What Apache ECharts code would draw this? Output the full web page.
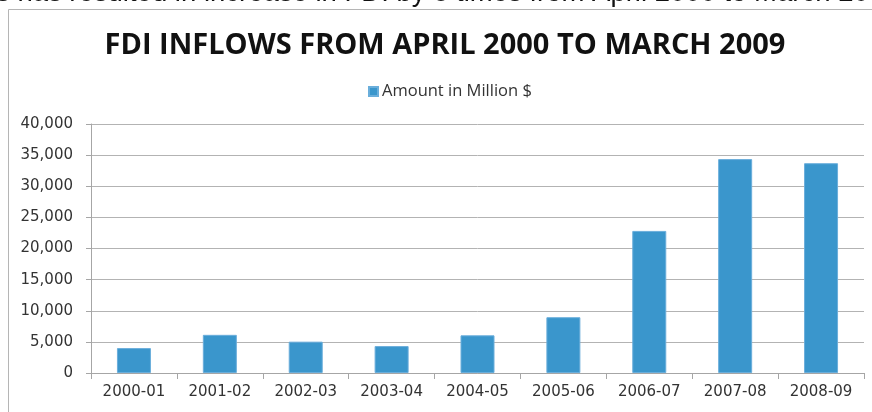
<!DOCTYPE html>
<html>
<head>
<meta charset="utf-8">
<script src="https://cdn.jsdelivr.net/npm/echarts@6/dist/echarts.min.js"></script>
<style>
html,body{margin:0;padding:0;background:#fff;}
#c{width:872px;height:412px;}
</style>
</head>
<body>
<div id="c"></div>
<script>
var categories = ['2000-01','2001-02','2002-03','2003-04','2004-05','2005-06','2006-07','2007-08','2008-09'];
var amounts = [4000, 6130, 5035, 4322, 6051, 8961, 22826, 34362, 33700];
var seriesName = 'Amount in Million $';
var titleText = 'FDI INFLOWS FROM APRIL 2000 TO MARCH 2009';
var topLine = 's has resulted in increase in FDI by 8 times from April 2000 to March 2009';

var chart = echarts.init(document.getElementById('c'));
chart.setOption({
  animation: false,
  backgroundColor: '#fff',
  graphic: [
    { type: 'text', left: -4, top: -21, z: 10,
      style: { text: topLine, font: '27.5px "Liberation Sans", Arial, sans-serif', fill: '#111' } },
    { type: 'line', shape: { x1: 8.5, y1: 9.5, x2: 872, y2: 9.5 }, style: { stroke: '#b5b5b5', lineWidth: 1 } },
    { type: 'line', shape: { x1: 8.5, y1: 9.5, x2: 8.5, y2: 412 }, style: { stroke: '#b5b5b5', lineWidth: 1 } },
    { type: 'text', x: 445, y: 46, z: 10,
      style: { text: titleText, font: 'bold 29px "Open Sans", sans-serif', fill: '#111', align: 'center', verticalAlign: 'middle' } }
  ],
  legend: {
    data: [seriesName],
    left: 363, top: 78,
    icon: 'rect', itemWidth: 9, itemHeight: 9, itemGap: 4,
    textStyle: { fontFamily: '"Open Sans", sans-serif', fontSize: 16.5, color: '#333', padding: [0,0,0,-1] }
  },
  grid: { left: 91, right: 8, top: 124, bottom: 39, containLabel: false },
  xAxis: {
    type: 'category', data: categories,
    axisLine: { lineStyle: { color: '#a6a6a6', width: 1 } },
    axisTick: { show: true, length: 6, lineStyle: { color: '#a6a6a6' } },
    axisLabel: { fontFamily: '"DejaVu Sans", sans-serif', fontSize: 15, color: '#333', margin: 12 }
  },
  yAxis: {
    type: 'value', min: 0, max: 40000, interval: 5000,
    axisLine: { show: true, lineStyle: { color: '#a6a6a6', width: 1 } },
    axisTick: { show: true, length: 5, lineStyle: { color: '#a6a6a6' } },
    splitLine: { lineStyle: { color: '#b3b3b3', width: 1 } },
    axisLabel: { fontFamily: '"DejaVu Sans", sans-serif', fontSize: 15, color: '#333', margin: 18,
      formatter: function (v) { return v.toLocaleString('en-US'); } }
  },
  series: [{
    name: seriesName, type: 'bar', data: amounts, barWidth: 34,
    itemStyle: { color: '#3a96cc', borderColor: '#6aaedb', borderWidth: 1 }
  }]
});
</script>
</body>
</html>
